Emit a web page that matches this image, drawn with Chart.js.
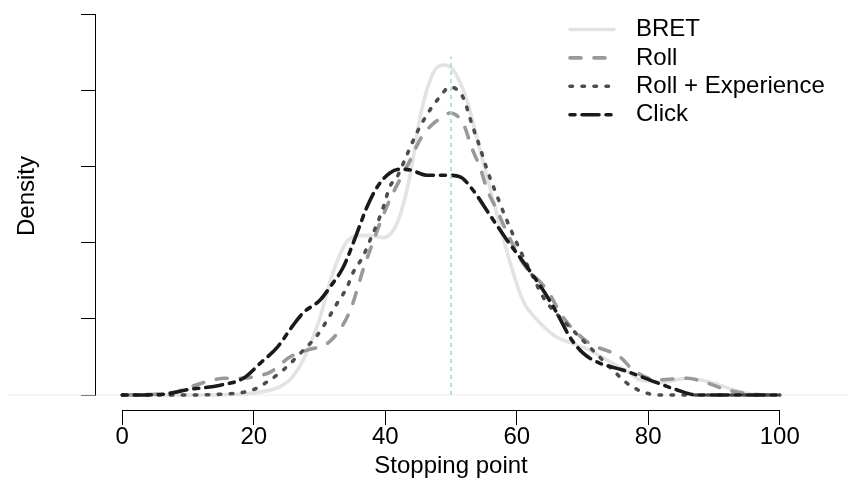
<!DOCTYPE html>
<html>
<head>
<meta charset="utf-8">
<script src="https://cdn.jsdelivr.net/npm/chart.js@4.4.1/dist/chart.umd.min.js"></script>
<style>
html,body{margin:0;padding:0;background:#ffffff;}
#wrap{width:849px;height:496px;}
</style>
</head>
<body>
<div id="wrap"><canvas id="c" width="849" height="496"></canvas></div>
<script>
// ---- data (density estimates) ----
const xTicks = [0, 20, 40, 60, 80, 100];
const yTicks = [0, 0.01, 0.02, 0.03, 0.04, 0.05];
const seriesLabels = ["BRET", "Roll", "Roll + Experience", "Click"];
const xTitle = "Stopping point";
const yTitle = "Density";
const referenceX = 50;
const referenceTop = 0.0445;

const bretX = [0, 10, 17.5, 21, 24, 26, 28, 30, 32, 34, 35.5, 37.5, 39.7, 41.8, 43.3, 44.2, 45.3, 47.3, 48.8, 50.3, 52.4, 54.4, 56.4, 57.9, 59.0, 60.9, 63.5, 66.1, 68.5, 71.1, 73.7, 77.2, 78.7, 82.2, 85.9, 89.4, 92.9, 95.9, 100];
const bretY = [0, 0, 0.0001, 0.0004, 0.0011, 0.0025, 0.0055, 0.0100, 0.0160, 0.0200, 0.0209, 0.0210, 0.0207, 0.0226, 0.0270, 0.0309, 0.0366, 0.0424, 0.0434, 0.0428, 0.0388, 0.0322, 0.0257, 0.0208, 0.0174, 0.0125, 0.0095, 0.0076, 0.0068, 0.0059, 0.0046, 0.0029, 0.0020, 0.0017, 0.0022, 0.0017, 0.0007, 0.0001, 0];

const rollX = [0, 5, 8, 12.6, 15.7, 18.4, 20.5, 22.5, 25.5, 28.1, 31.2, 33.1, 34.7, 35.7, 36.6, 37.7, 39.2, 40.7, 42.2, 43.8, 45.3, 46.8, 48.8, 49.8, 51.8, 53.3, 54.4, 55.5, 57.0, 58.5, 60.9, 64.6, 67.0, 69.1, 71.1, 75.7, 77.7, 81.3, 85.9, 88.9, 91.9, 95.9, 100];
const rollY = [0, 0.0001, 0.0004, 0.0017, 0.0022, 0.0022, 0.0025, 0.0030, 0.0050, 0.0059, 0.0068, 0.0086, 0.0112, 0.0138, 0.0164, 0.0191, 0.0226, 0.0257, 0.0283, 0.0309, 0.0336, 0.0353, 0.0366, 0.0371, 0.0358, 0.0322, 0.0300, 0.0270, 0.0243, 0.0214, 0.0174, 0.0138, 0.0103, 0.0082, 0.0068, 0.0050, 0.0033, 0.0020, 0.0022, 0.0016, 0.0007, 0.0001, 0];

const rollExpX = [0, 8.8, 14.9, 19.9, 22.5, 24.5, 27.1, 29.6, 31.2, 32.7, 34.2, 35.1, 36.6, 37.7, 38.8, 39.7, 40.7, 41.8, 43.3, 44.8, 46.8, 48.3, 49.8, 51.8, 53.3, 54.4, 55.5, 57.0, 58.0, 60.0, 62.5, 64.0, 65.5, 68.1, 71.1, 74.6, 76.7, 79.2, 81.8, 100];
const rollExpY = [0, 0, 0.0001, 0.0007, 0.0020, 0.0033, 0.0055, 0.0078, 0.0099, 0.0121, 0.0142, 0.0161, 0.0182, 0.0204, 0.0226, 0.0247, 0.0274, 0.0287, 0.0316, 0.0345, 0.0375, 0.0392, 0.0405, 0.0392, 0.0353, 0.0326, 0.0296, 0.0262, 0.0240, 0.0200, 0.0155, 0.0129, 0.0112, 0.0089, 0.0063, 0.0033, 0.0016, 0.0004, 0, 0];

const clickX = [0, 6.2, 9.9, 14.9, 18.4, 21.0, 23.6, 26.0, 27.5, 30.1, 31.6, 33.6, 35.7, 37.2, 38.8, 40.7, 42.2, 43.8, 46.4, 49.8, 51.4, 53.3, 55.9, 58.5, 61.6, 64.0, 66.1, 68.1, 70.1, 72.6, 76.1, 80.2, 84.3, 87.4, 100];
const clickY = [0, 0.0001, 0.0007, 0.0013, 0.0022, 0.0042, 0.0063, 0.0092, 0.0108, 0.0125, 0.0142, 0.0168, 0.0213, 0.0247, 0.0274, 0.0292, 0.0297, 0.0296, 0.0289, 0.0289, 0.0287, 0.0270, 0.0237, 0.0204, 0.0168, 0.0138, 0.0108, 0.0076, 0.0055, 0.0042, 0.0033, 0.0020, 0.0007, 0, 0];

// ---- helpers ----
const pts = (xs, ys) => xs.map((x, i) => ({ x: x, y: ys[i] }));
const FONT = '"Liberation Sans", Arial, Helvetica, sans-serif';
const FS = 24;

const curve = (label, xs, ys, color, dash, order) => ({
  label: label,
  data: pts(xs, ys),
  borderColor: color,
  borderWidth: 3.6,
  borderDash: dash,
  borderCapStyle: 'round',
  borderJoinStyle: 'round',
  pointRadius: 0,
  fill: false,
  cubicInterpolationMode: 'monotone',
  order: order
});

const datasets = [
  {
    label: '_ref', data: [{ x: referenceX, y: 0 }, { x: referenceX, y: referenceTop }],
    borderColor: '#a9d3e3', borderWidth: 1.6, borderDash: [4, 4], pointRadius: 0, order: 0
  },
  curve(seriesLabels[3], clickX, clickY, '#1a1a1a', [5, 7, 17, 7], 1),
  curve(seriesLabels[2], rollExpX, rollExpY, '#4d4d4d', [2.5, 9.5], 2),
  curve(seriesLabels[1], rollX, rollY, '#999999', [11, 13], 3),
  curve(seriesLabels[0], bretX, bretY, '#e3e3e3', [], 4),
  {
    label: '_zero', data: [{ x: -17.3, y: 0 }, { x: 110.5, y: 0 }],
    borderColor: '#ececec', borderWidth: 1, pointRadius: 0, order: 5, clip: false
  }
];

// R-style axis lines spanning first to last tick, y title, legend
const rStyle = {
  id: 'rStyle',
  afterDatasetsDraw(chart) {
    const ctx = chart.ctx;
    const xs = chart.scales.x, ys = chart.scales.y;
    ctx.save();
    ctx.strokeStyle = '#000';
    ctx.lineWidth = 1;
    ctx.setLineDash([]);
    const ax = Math.round(xs.top) + 0.5;
    ctx.beginPath();
    ctx.moveTo(xs.getPixelForValue(xTicks[0]), ax);
    ctx.lineTo(xs.getPixelForValue(xTicks[xTicks.length - 1]), ax);
    ctx.stroke();
    const ay = Math.round(ys.right) - 0.5;
    ctx.beginPath();
    ctx.moveTo(ay, ys.getPixelForValue(yTicks[0]));
    ctx.lineTo(ay, ys.getPixelForValue(yTicks[yTicks.length - 1]));
    ctx.stroke();

    // y axis title
    ctx.translate(27, 196);
    ctx.rotate(-Math.PI / 2);
    ctx.fillStyle = '#000';
    ctx.font = FS + 'px ' + FONT;
    ctx.textAlign = 'center';
    ctx.textBaseline = 'middle';
    ctx.fillText(yTitle, 0, 0);
    ctx.restore();

    // legend
    seriesLabels.forEach((lab, i) => {
      const ds = chart.data.datasets.find(d => d.label === lab);
      const y = 29.5 + i * 28.4;
      ctx.save();
      ctx.strokeStyle = ds.borderColor;
      ctx.lineWidth = ds.borderWidth;
      ctx.lineCap = 'round';
      ctx.setLineDash(ds.borderDash || []);
      ctx.beginPath();
      ctx.moveTo(570, y);
      ctx.lineTo(614, y);
      ctx.stroke();
      ctx.setLineDash([]);
      ctx.fillStyle = '#000';
      ctx.font = FS + 'px ' + FONT;
      ctx.textBaseline = 'middle';
      ctx.textAlign = 'left';
      ctx.fillText(lab, 636, y);
      ctx.restore();
    });
  }
};

Chart.defaults.font.family = FONT;
Chart.defaults.color = '#000';

new Chart(document.getElementById('c'), {
  type: 'line',
  data: { datasets: datasets },
  options: {
    responsive: false,
    animation: false,
    devicePixelRatio: 1,
    layout: { padding: { left: 0, right: 43, top: 5, bottom: 0 } },
    plugins: { legend: { display: false }, tooltip: { enabled: false } },
    scales: {
      x: {
        type: 'linear',
        min: -4, max: 104,
        afterBuildTicks: s => { s.ticks = xTicks.map(v => ({ value: v })); },
        afterFit: s => { s.height = 86; },
        grid: { drawOnChartArea: false, drawTicks: true, tickLength: 15, color: '#000', lineWidth: 1 },
        border: { display: false },
        ticks: { font: { size: FS, lineHeight: 1 }, padding: 0, maxRotation: 0, autoSkip: false, color: '#000' },
        title: { display: true, text: xTitle, font: { size: FS, lineHeight: 1.2 }, color: '#000', padding: { top: 0, bottom: 15.6 } }
      },
      y: {
        type: 'linear',
        min: -0.00197, max: 0.0513,
        afterBuildTicks: s => { s.ticks = yTicks.map(v => ({ value: v })); },
        afterFit: s => { s.width = 96; },
        grid: { drawOnChartArea: false, drawTicks: true, tickLength: 15, color: '#000', lineWidth: 1 },
        border: { display: false },
        ticks: { display: false },
        title: { display: false }
      }
    }
  },
  plugins: [rStyle]
});
</script>
</body>
</html>
